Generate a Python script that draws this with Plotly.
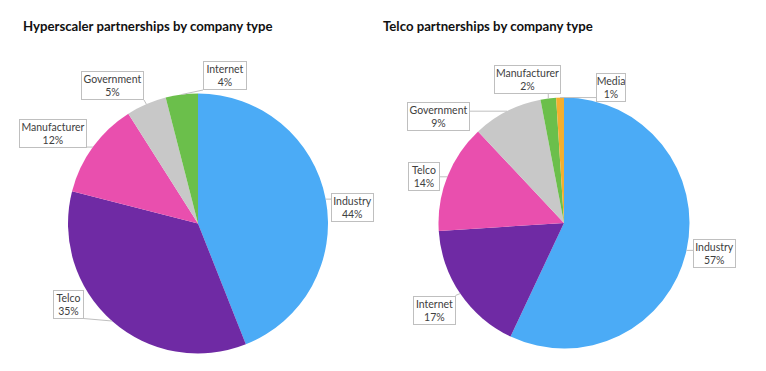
import math
import plotly.graph_objects as go

# ---------------- data ----------------
hyper_labels = ["Industry", "Telco", "Manufacturer", "Government", "Internet"]
hyper_values = [44, 35, 12, 5, 4]
telco_labels = ["Industry", "Internet", "Telco", "Government", "Manufacturer", "Media"]
telco_values = [57, 17, 14, 9, 2, 1]

hyper_title = "Hyperscaler partnerships by company type"
telco_title = "Telco partnerships by company type"

# ---------------- styling / layout ----------------
W, H = 766, 371          # browser window
OFF = 8                  # default page body margin
FONT = "Lato, Carlito, Calibri, sans-serif"
hyper_colors = ["#4BABF6", "#6F2AA4", "#E94FAE", "#C8C8C8", "#6BBF4B"]
telco_colors = ["#4BABF6", "#6F2AA4", "#E94FAE", "#C8C8C8", "#6BBF4B", "#F4AF2F"]

# pie placement (window pixels): centre x, centre y, radius
hyper_geom = (198, 223.5, 130)
telco_geom = (564, 223, 125.5)

# label box centres (window pixels) and outer widths
hyper_box = [(352.5, 207.5), (68, 304), (53, 134), (112.5, 85.5), (225, 75.5)]
hyper_box_w = [43, 31, 68, 63, 44]
telco_box = [(714.5, 253.5), (434, 310), (424, 177), (438.5, 116), (527, 79.5), (611, 87.5)]
telco_box_w = [43, 43, 32, 63, 67, 30]
BOX_H = 29

FW, FH = W - OFF, H - OFF


def px(x):
    return (x - OFF) / FW


def py(y):
    return 1 - (y - OFF) / FH


fig = go.Figure()
shapes = []
annotations = []


def add_pie(labels, values, colors, geom, boxes, widths):
    cx, cy, r = geom
    fig.add_trace(go.Pie(
        labels=labels, values=values, sort=False, direction="clockwise",
        rotation=0, textinfo="none", hoverinfo="label+percent",
        marker=dict(colors=colors, line=dict(width=0)),
        domain=dict(x=[px(cx - r), px(cx + r)], y=[py(cy + r), py(cy - r)]),
        showlegend=False,
    ))
    total = sum(values)
    cum = 0
    for lab, v, (bx, by), bw in zip(labels, values, boxes, widths):
        mid = (cum + v / 2) / total * 2 * math.pi
        cum += v
        ax = cx + r * math.sin(mid)
        ay = cy - r * math.cos(mid)
        x0, x1 = bx - bw / 2, bx + bw / 2
        y0, y1 = by - BOX_H / 2, by + BOX_H / 2
        sx = min(max(ax, x0), x1)
        sy = min(max(ay, y0), y1)
        shapes.append(dict(type="line", xref="paper", yref="paper",
                           x0=px(sx), y0=py(sy), x1=px(ax), y1=py(ay),
                           line=dict(color="#BFBFBF", width=1)))
        pct = round(v / total * 100)
        annotations.append(dict(
            text=f"{lab}<br>{pct}%", x=px(bx), y=py(by), xref="paper", yref="paper",
            xanchor="center", yanchor="middle", showarrow=False, align="center",
            font=dict(family=FONT, size=10.5, color="#404040"),
            bgcolor="white", bordercolor="#BFBFBF", borderwidth=1, borderpad=0,
            width=bw - 2, height=BOX_H - 2,
        ))


add_pie(hyper_labels, hyper_values, hyper_colors, hyper_geom, hyper_box, hyper_box_w)
add_pie(telco_labels, telco_values, telco_colors, telco_geom, telco_box, telco_box_w)

annotations.append(dict(text=f"<b>{hyper_title}</b>", x=px(21), y=py(26), xref="paper",
                        yref="paper", xanchor="left", yanchor="middle", showarrow=False,
                        font=dict(family=FONT, size=13.2, color="#111111")))
annotations.append(dict(text=f"<b>{telco_title}</b>", x=px(381), y=py(26), xref="paper",
                        yref="paper", xanchor="left", yanchor="middle", showarrow=False,
                        font=dict(family=FONT, size=13.2, color="#111111")))

fig.update_layout(
    width=FW, height=FH, margin=dict(l=0, r=0, t=0, b=0),
    paper_bgcolor="white", plot_bgcolor="white",
    shapes=shapes, annotations=annotations, showlegend=False,
)

fig.write_html("out.html")
